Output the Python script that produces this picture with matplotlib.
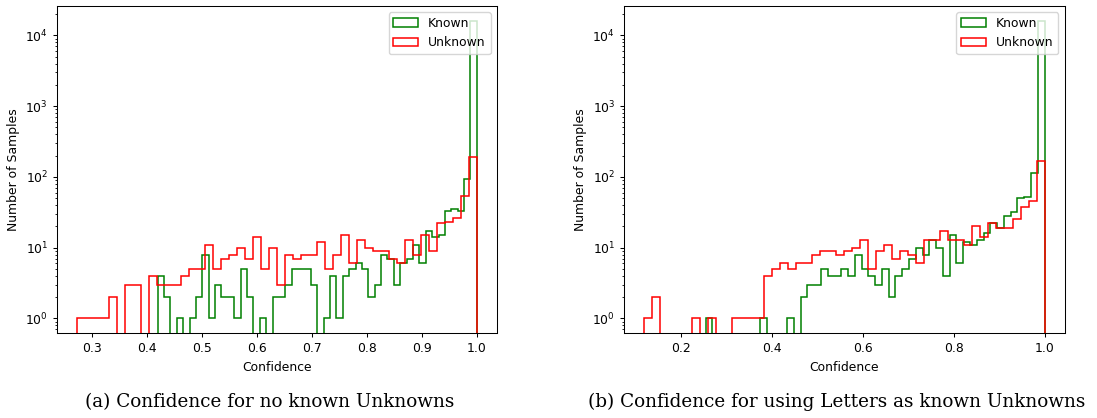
import numpy as np
import matplotlib
matplotlib.use("Agg")
import matplotlib.pyplot as plt

# counts per bin (50 bins each, from the lowest confidence up to 1.0)
known_a_min = 0.419
known_a = [4, 2, 0, 1, 0, 1, 2, 8, 1, 3,
           2, 2, 1, 5, 2, 0, 1, 0, 2, 2,
           3, 5, 5, 5, 3, 0, 1, 4, 1, 4,
           5, 6, 5, 2, 3, 8, 7, 3, 6, 7,
           11, 6, 17, 14, 15, 33, 35, 33, 92, 16000]
unknown_a_min = 0.2727
unknown_a = [1, 1, 1, 1, 2, 0, 3, 3, 0, 4,
             3, 3, 3, 4, 5, 5, 11, 5, 7, 8,
             10, 7, 14, 5, 10, 3, 8, 7, 8, 8,
             12, 5, 8, 15, 6, 13, 10, 9, 9, 7,
             6, 13, 8, 15, 9, 22, 23, 26, 53, 194]

known_b_min = 0.2543
known_b = [1, 0, 0, 0, 0, 0, 0, 0, 1, 0,
           0, 0, 1, 0, 2, 3, 3, 5, 4, 4,
           5, 4, 8, 5, 4, 3, 5, 2, 4, 5,
           7, 10, 8, 13, 10, 4, 15, 6, 12, 11,
           13, 16, 22, 19, 28, 32, 50, 52, 115, 16000]
unknown_b_min = 0.1193
unknown_b = [1, 2, 0, 0, 0, 0, 1, 0, 1, 0,
             0, 1, 1, 1, 1, 4, 5, 6, 5, 6,
             6, 8, 9, 9, 8, 9, 10, 13, 5, 9,
             11, 7, 9, 8, 6, 13, 13, 17, 13, 13,
             11, 20, 14, 22, 19, 19, 25, 37, 45, 170]

captions = ["(a) Confidence for no known Unknowns",
            "(b) Confidence for using Letters as known Unknowns"]


def draw(ax, known, kmin, unknown, umin):
    """Step histograms of both groups on a log axis"""
    for counts, low, color, label in [(known, kmin, "green", "Known"),
                                      (unknown, umin, "red", "Unknown")]:
        edges = np.linspace(low, 1.0, len(counts) + 1)
        centers = (edges[:-1] + edges[1:]) / 2
        ax.hist(centers, bins=edges, weights=counts, histtype="step",
                color=color, log=True, label=label, linewidth=1.1)
    ax.set_xlabel("Confidence")
    ax.set_ylabel("Number of Samples")
    ax.legend(loc="upper right")


def main() -> int:
    plt.rcParams["font.size"] = 8.9
    plt.rcParams["axes.linewidth"] = 0.75
    for k in ["xtick", "ytick"]:
        plt.rcParams[k + ".major.size"] = 3.1
        plt.rcParams[k + ".minor.size"] = 1.8
        plt.rcParams[k + ".major.width"] = 0.75
        plt.rcParams[k + ".minor.width"] = 0.6

    fig = plt.figure(figsize=(10.97, 4.18), dpi=100)
    ax1 = fig.add_axes([0.0522, 0.2026, 0.4007, 0.783])
    ax2 = fig.add_axes([0.5691, 0.2026, 0.4013, 0.783])

    draw(ax1, known_a, known_a_min, unknown_a, unknown_a_min)
    draw(ax2, known_b, known_b_min, unknown_b, unknown_b_min)

    # captions under each panel
    fig.text(270 / 1097, 1 - 402 / 418, captions[0], ha="center",
             va="center", family="DejaVu Serif", fontsize=13.2)
    fig.text(837 / 1097, 1 - 402 / 418, captions[1], ha="center",
             va="center", family="DejaVu Serif", fontsize=13.2)

    fig.savefig("out.png", dpi=100)
    return 0


if __name__ == "__main__":
    main()
